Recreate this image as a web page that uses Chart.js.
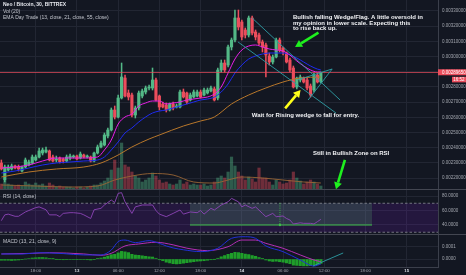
<!DOCTYPE html>
<html lang="en">
<head>
<meta charset="UTF-8">
<title>Neo / Bitcoin, 30, BITTREX</title>
<script src="https://cdn.jsdelivr.net/npm/chart.js@4.4.0/dist/chart.umd.min.js"></script>
<style>
  html, body { margin: 0; padding: 0; background: #131722; }
  #wrap { position: relative; width: 466px; height: 275px; overflow: hidden; background: #131722; }
  canvas { position: absolute; left: 0; }
</style>
</head>
<body>
<div id="wrap">
  <canvas id="price" width="466" height="190" style="top:0"></canvas>
  <canvas id="rsi" width="466" height="45" style="top:190px"></canvas>
  <canvas id="macd" width="466" height="40" style="top:235px"></canvas>
</div>
<script>
// ---- data (30 min candles, index 0 = first bar) ----
const timeTicks = [10, 22, 34, 46, 58, 70, 82, 94, 106, 118];
const timeLabels = ['18:00', '13', '06:00', '12:00', '18:00', '14', '06:00', '12:00', '18:00', '15'];
const priceTicks = [0.0022, 0.0023, 0.0024, 0.0025, 0.0026, 0.0027, 0.0028, 0.0029, 0.0030, 0.0031, 0.0032, 0.0033];
const rsiTicks = [40, 60, 80];
const macdTicks = [0, 0.0001];

const open = [
  0.0022996, 0.0021878, 0.0022536, 0.0022602, 0.0022799, 0.0022733, 0.0022470, 0.0022733, 0.0022865, 0.0022996,
  0.0023194, 0.0023391, 0.0023654, 0.0023720, 0.0023786, 0.0023391, 0.0023194, 0.0023325, 0.0023260, 0.0023128,
  0.0023325, 0.0023391, 0.0023457, 0.0023325, 0.0023523, 0.0023391, 0.0023391, 0.0023128, 0.0023654, 0.0024049,
  0.0024180, 0.0024773, 0.0025167, 0.0026483, 0.0026023, 0.0027273, 0.0028588, 0.0027602, 0.0027470, 0.0026154,
  0.0026615, 0.0027404, 0.0027667, 0.0027931, 0.0027931, 0.0028457, 0.0027404, 0.0026878, 0.0026812, 0.0026483,
  0.0026878, 0.0026681, 0.0026681, 0.0027667, 0.0027602, 0.0027141, 0.0027338, 0.0027404, 0.0027667, 0.0027470,
  0.0027602, 0.0027733, 0.0027865, 0.0027273, 0.0029115, 0.0029575, 0.0029444, 0.0030628, 0.0031088, 0.0032536,
  0.0032273, 0.0031746, 0.0031417, 0.0032536, 0.0031615, 0.0031417, 0.0030957, 0.0030760, 0.0030036, 0.0029641,
  0.0029970, 0.0031088, 0.0030562, 0.0030233, 0.0029773, 0.0029246, 0.0027996, 0.0028457, 0.0028588, 0.0028457,
  0.0028062, 0.0027799, 0.0028786, 0.0028325
];
const high = [
  0.0023194, 0.0022865, 0.0022865, 0.0022930, 0.0022865, 0.0022865, 0.0022799, 0.0023325, 0.0023194, 0.0023523,
  0.0023523, 0.0023983, 0.0023983, 0.0024049, 0.0023852, 0.0023523, 0.0023457, 0.0023391, 0.0023325, 0.0023523,
  0.0023588, 0.0023523, 0.0023523, 0.0023720, 0.0023588, 0.0023523, 0.0023457, 0.0023720, 0.0024180, 0.0024444,
  0.0024970, 0.0025299, 0.0026615, 0.0026746, 0.0027470, 0.0029575, 0.0028786, 0.0027799, 0.0027602, 0.0026746,
  0.0027733, 0.0027865, 0.0028062, 0.0028128, 0.0029246, 0.0028588, 0.0027470, 0.0027010, 0.0026944, 0.0026944,
  0.0027010, 0.0026878, 0.0027799, 0.0027865, 0.0027667, 0.0027602, 0.0027799, 0.0027799, 0.0027799, 0.0027931,
  0.0027931, 0.0028062, 0.0027996, 0.0029246, 0.0029773, 0.0029773, 0.0030760, 0.0031220, 0.0033062, 0.0033062,
  0.0032404, 0.0031878, 0.0032667, 0.0032667, 0.0031746, 0.0031549, 0.0031088, 0.0030891, 0.0030233, 0.0030102,
  0.0031220, 0.0031220, 0.0030628, 0.0030299, 0.0029904, 0.0029378, 0.0028654, 0.0028786, 0.0028654, 0.0028588,
  0.0028194, 0.0028917, 0.0028917, 0.0028983
];
const low = [
  0.0022536, 0.0021746, 0.0022470, 0.0022536, 0.0022602, 0.0022470, 0.0022404, 0.0022667, 0.0022799, 0.0022930,
  0.0023128, 0.0023325, 0.0023523, 0.0023654, 0.0023128, 0.0023062, 0.0023062, 0.0022996, 0.0022996, 0.0023062,
  0.0023194, 0.0023325, 0.0023194, 0.0023260, 0.0023325, 0.0023325, 0.0023062, 0.0023062, 0.0023588, 0.0023983,
  0.0024115, 0.0024641, 0.0025102, 0.0025891, 0.0025957, 0.0027207, 0.0027338, 0.0027141, 0.0026023, 0.0025957,
  0.0026483, 0.0027273, 0.0027536, 0.0027799, 0.0027799, 0.0027075, 0.0026483, 0.0026615, 0.0026352, 0.0026417,
  0.0026483, 0.0026615, 0.0026615, 0.0027273, 0.0026878, 0.0027075, 0.0027273, 0.0027338, 0.0027273, 0.0027404,
  0.0027536, 0.0027667, 0.0027075, 0.0027141, 0.0028983, 0.0028983, 0.0029312, 0.0030431, 0.0030957, 0.0031746,
  0.0031088, 0.0031220, 0.0031286, 0.0031417, 0.0031088, 0.0030760, 0.0030299, 0.0028654, 0.0029444, 0.0029509,
  0.0029904, 0.0030299, 0.0030102, 0.0029575, 0.0028983, 0.0027931, 0.0027865, 0.0028325, 0.0028260, 0.0027799,
  0.0027338, 0.0027667, 0.0028260, 0.0028260
];
const close = [
  0.0022602, 0.0022733, 0.0022733, 0.0022799, 0.0022667, 0.0022602, 0.0022733, 0.0023194, 0.0023062, 0.0023391,
  0.0023391, 0.0023786, 0.0023852, 0.0023852, 0.0023194, 0.0023128, 0.0023260, 0.0023062, 0.0023128, 0.0023391,
  0.0023457, 0.0023457, 0.0023260, 0.0023588, 0.0023391, 0.0023457, 0.0023128, 0.0023654, 0.0024049, 0.0024312,
  0.0024838, 0.0025167, 0.0026483, 0.0026023, 0.0027273, 0.0028654, 0.0027404, 0.0027338, 0.0026154, 0.0026615,
  0.0027602, 0.0027733, 0.0027931, 0.0027996, 0.0028457, 0.0027141, 0.0026681, 0.0026681, 0.0026483, 0.0026878,
  0.0026615, 0.0026746, 0.0027667, 0.0027338, 0.0027010, 0.0027470, 0.0027667, 0.0027667, 0.0027338, 0.0027799,
  0.0027799, 0.0027931, 0.0027141, 0.0029115, 0.0029575, 0.0029115, 0.0030628, 0.0031088, 0.0032536, 0.0031944,
  0.0031286, 0.0031417, 0.0032536, 0.0031549, 0.0031286, 0.0030891, 0.0030628, 0.0030102, 0.0029641, 0.0029970,
  0.0031088, 0.0030431, 0.0030299, 0.0029641, 0.0029115, 0.0027996, 0.0028588, 0.0028654, 0.0028325, 0.0027931,
  0.0027470, 0.0028786, 0.0028325, 0.0028965
];
const volume = [
  60, 90, 60, 50, 40, 50, 40, 80, 60, 50,
  70, 50, 60, 40, 70, 50, 30, 40, 30, 30,
  30, 20, 30, 30, 20, 30, 40, 50, 50, 70,
  90, 120, 200, 300, 220, 470, 250, 230, 180, 140,
  120, 80, 100, 120, 170, 140, 100, 70, 80, 60,
  50, 60, 100, 60, 80, 50, 60, 50, 50, 60,
  40, 50, 80, 120, 140, 120, 180, 330, 240, 180,
  140, 100, 130, 110, 80, 220, 120, 120, 80, 50,
  100, 80, 60, 70, 100, 180, 120, 90, 60, 80,
  100, 80, 60, 40
];
const volMa = [[0, 50], [10, 40], [20, 30], [28, 40], [33, 100], [38, 140], [44, 165], [50, 150], [56, 80],
  [62, 70], [66, 100], [70, 130], [76, 120], [82, 100], [88, 80], [93, 70]];

const ema13 = [[0, 0.0022667], [4, 0.0022733], [8, 0.0022865], [12, 0.0023128], [16, 0.0023325], [20, 0.0023325],
  [24, 0.0023325], [28, 0.0023391], [30, 0.0023852], [32, 0.0024509], [34, 0.0025562], [36, 0.0026023],
  [38, 0.0026220], [40, 0.0026746], [42, 0.0026944], [44, 0.0027075], [46, 0.0027075], [48, 0.0026878],
  [50, 0.0026944], [52, 0.0027010], [54, 0.0027141], [56, 0.0027207], [58, 0.0027273], [60, 0.0027338],
  [62, 0.0027536], [64, 0.0027996], [66, 0.0028917], [68, 0.0029838], [70, 0.0030431], [72, 0.0030694],
  [74, 0.0030760], [76, 0.0030628], [78, 0.0030496], [80, 0.0030431], [82, 0.0030365], [84, 0.0030102],
  [86, 0.0029707], [88, 0.0029378], [90, 0.0029115], [92, 0.0028983], [93, 0.0028983]];
const ema21 = [[0, 0.0022338], [4, 0.0022470], [8, 0.0022667], [12, 0.0022865], [16, 0.0022996], [20, 0.0023062],
  [24, 0.0023128], [28, 0.0023194], [30, 0.0023391], [32, 0.0023852], [34, 0.0024378], [36, 0.0024970],
  [38, 0.0025299], [40, 0.0025694], [42, 0.0026023], [44, 0.0026286], [46, 0.0026417], [48, 0.0026483],
  [50, 0.0026615], [52, 0.0026746], [54, 0.0026878], [56, 0.0027010], [58, 0.0027141], [60, 0.0027207],
  [62, 0.0027338], [64, 0.0027667], [66, 0.0028194], [68, 0.0028917], [70, 0.0029444], [72, 0.0029838],
  [74, 0.0030036], [76, 0.0030167], [78, 0.0030233], [80, 0.0030233], [82, 0.0030233], [84, 0.0030102],
  [86, 0.0029904], [88, 0.0029641], [90, 0.0029378], [92, 0.0029175], [93, 0.0029115]];
const ema55 = [[0, 0.0022075], [8, 0.0022404], [16, 0.0022602], [24, 0.0022733], [29, 0.0022996], [34, 0.0023523],
  [38, 0.0024049], [43, 0.0024575], [46, 0.0024838], [53, 0.0025431], [58, 0.0025759], [62, 0.0026023],
  [67, 0.0026878], [72, 0.0027470], [77, 0.0027931], [82, 0.0028325], [87, 0.0028588], [93, 0.0028654]];

const rsi = [[0, 46], [1, 54], [2, 55], [4, 52], [5, 52], [7, 58], [8, 60], [10, 64], [11, 65], [13, 61], [14, 54],
  [16, 54], [17, 51.5], [18, 56], [20, 57], [21, 57], [23, 56], [24, 54], [26, 49], [27, 61], [29, 63], [30, 67.6],
  [32, 74.5], [33, 71], [34, 83.7], [35, 84.6], [36, 72], [38, 56], [39, 65], [41, 67.6], [44, 67.6], [45, 60],
  [46, 55], [48, 51.5], [50, 56], [52, 60.7], [53, 55], [55, 58], [57, 57], [58, 60], [59, 55], [61, 63], [62, 60.7],
  [64, 67.6], [66, 72], [67, 76.8], [69, 72], [70, 65], [71, 67.6], [73, 63], [74, 65], [76, 56], [77, 51.5],
  [79, 56], [80, 51.5], [82, 52.4], [83, 49], [84, 46.9], [85, 41.4], [87, 43], [88, 42.3], [90, 42.3], [91, 41.4],
  [92, 44.6], [93, 47.8]];
const rsiUpper = 70, rsiLower = 30;

const macdHist = [
  -1, -1, -1, -1.2, -1, -0.8, -0.5, 0, 0.4, 0.8,
  1, 1.2, 1.2, 1, 0.5, 0.2, -0.2, -0.5, -0.6, -0.5,
  -0.4, -0.4, -0.5, -0.4, -0.4, -0.6, -0.8, -0.3, 0.3, 0.8,
  1.5, 2.4, 3.5, 3.8, 5, 6.2, 5.8, 5.2, 3.8, 3.2,
  3, 2.6, 2.2, 1.8, 1.6, 0.6, -0.6, -1.4, -2.6, -3.2,
  -3.8, -4, -3.8, -3.4, -3, -2.6, -2.2, -1.8, -1.6, -1.4,
  -1, -0.6, -0.2, 0.6, 1.8, 2.8, 3.8, 4.6, 5.4, 5.2,
  4.6, 4, 3.6, 2.8, 2.2, 1.2, 0.2, -0.8, -1.6, -2,
  -1.8, -2.2, -2.6, -3.2, -3.8, -5, -5.2, -5.4, -5.6, -5.6,
  -5.4, -5, -4.4, -3.6
].map(v => v * 1e-5);
const macdLine = [[0, 4.1], [6, 4.0], [11, 5.1], [18, 4.4], [24, 3.3], [29, 3.3], [32, 7.3], [34, 14.1], [36, 15.4],
  [39, 13.3], [43, 14.9], [46, 12.7], [48, 10.6], [50, 9.0], [53, 7.5], [58, 6.0], [63, 8.7], [67, 16.8], [71, 18.1],
  [74, 16.8], [77, 10.6], [82, 6.0], [87, -0.8], [91, -5.7], [93, -4.1]].map(([i, v]) => [i, v * 1e-5]);
const signalLine = [[0, 4.1], [9, 4.6], [14, 5.1], [24, 4.1], [29, 3.0], [32, 4.6], [36, 10.6], [40, 12.2],
  [45, 13.6], [50, 11.5], [54, 8.8], [60, 6.8], [66, 10], [70, 15.4], [74, 15.4], [77, 12.7], [82, 8.7], [87, 3.3],
  [91, -0.8], [93, -2.2]].map(([i, v]) => [i, v * 1e-5]);

// drawings on the chart, in (bar index, value)
const wedgeLines = [
  [[73.0, 0.0032536], [98.6, 0.0027141]],
  [[68.9, 0.0030957], [97.4, 0.0026286]],
  [[86.1, 0.0028457], [96.3, 0.0029181]],
  [[89.3, 0.0027141], [96.3, 0.0029181]]
];
const greenArrow = [[92.3, 0.0031569], [85.5, 0.0030628]];
const yellowArrow = [[82.6, 0.0026595], [87.1, 0.0027800]];
const rsiArrow = [[100.0, 0.0023194], [97.4, 0.0021266]];
const notes = [
  { at: [84.9, 0.0032602], lines: ['Bullish falling Wedge/Flag. A little oversold in', 'my opinion in lower scale. Expecting this', 'to rise back up.'] },
  { at: [72.9, 0.0026154], lines: ['Wait for Rising wedge to fall for entry.'] },
  { at: [90.7, 0.0023654], lines: ['Still in Bullish Zone on RSI'] }
];
const rsiZone = { from: 54.9, to: 107.9, top: 70, bottom: 40, mark: 81.1 };
const macdDrawLine = [[90.7, -5.7e-5], [99.5, 4.9e-5]];
const lastPrice = close[close.length - 1];
const countdown = '16:52';

// ---- styling ----
const FONT = '"Liberation Sans", Arial, sans-serif';
const gridColor = '#222633', edgeColor = '#3b3f4b', axisText = '#a3a6af';
const upColor = '#53b987', downColor = '#eb4d5c';
const xMin = -0.393, xMax = 127.1;

Chart.defaults.font.family = FONT;
Chart.defaults.font.size = 4.5;
Chart.defaults.color = axisText;
Chart.defaults.animation = false;
Chart.defaults.events = [];
Chart.defaults.plugins.legend.display = false;
Chart.defaults.plugins.tooltip.enabled = false;

const idx = open.map((_, i) => i);
const isUp = i => close[i] >= open[i];
const pts = arr => arr.map(([x, y]) => ({ x, y }));

function xScale(showLabels) {
  return {
    type: 'linear', min: xMin, max: xMax, offset: false,
    grid: { color: gridColor, drawTicks: false, offset: false },
    border: { display: showLabels, color: edgeColor },
    ticks: {
      display: showLabels, padding: 1.5, autoSkip: false, maxRotation: 0,
      color: c => (timeLabels[c.index] || '').length === 2 ? '#d8dbe2' : axisText,
      font: c => ({ family: FONT, size: 4.4, weight: (timeLabels[c.index] || '').length === 2 ? 'bold' : 'normal' }),
      callback: v => timeLabels[timeTicks.indexOf(v)] || ''
    },
    afterBuildTicks: s => { s.ticks = timeTicks.map(v => ({ value: v })); },
    afterFit: s => { s.height = showLabels ? 8 : 0; s.paddingLeft = 0; s.paddingRight = 0; }
  };
}
function yScale(ticksArr, min, max, fmt) {
  return {
    position: 'right', min, max,
    grid: { color: gridColor, drawTicks: false },
    border: { display: true, color: edgeColor },
    ticks: { padding: 4, autoSkip: false, callback: fmt, font: { size: 4.5 } },
    afterBuildTicks: s => { s.ticks = ticksArr.map(v => ({ value: v })); },
    afterFit: s => { s.width = 28; s.paddingTop = 0; s.paddingBottom = 0; }
  };
}
function separator(chart) {
  const ctx = chart.ctx, yb = chart.chartArea.bottom - 0.5;
  ctx.save();
  ctx.strokeStyle = '#434651'; ctx.lineWidth = 1;
  ctx.beginPath(); ctx.moveTo(0, yb); ctx.lineTo(chart.width, yb); ctx.stroke();
  ctx.restore();
}
function paneLabel(chart, text, y, bold) {
  const ctx = chart.ctx;
  ctx.save();
  ctx.fillStyle = bold ? '#e6e8ee' : '#c3c6ce';
  ctx.font = (bold ? 'bold ' : '') + '5px ' + FONT;
  ctx.textBaseline = 'middle'; ctx.textAlign = 'left';
  ctx.fillText(text, 3, y);
  ctx.restore();
}
function arrow(ctx, [x1, y1], [x2, y2], color) {
  const a = Math.atan2(y2 - y1, x2 - x1), L = 7, W = 4;
  const bx = x2 - L * Math.cos(a), by = y2 - L * Math.sin(a);
  ctx.strokeStyle = color; ctx.fillStyle = color; ctx.lineWidth = 2.6;
  ctx.beginPath(); ctx.moveTo(x1, y1); ctx.lineTo(bx, by); ctx.stroke();
  ctx.beginPath(); ctx.moveTo(x2, y2);
  ctx.lineTo(bx + W * Math.sin(a), by - W * Math.cos(a));
  ctx.lineTo(bx - W * Math.sin(a), by + W * Math.cos(a));
  ctx.closePath(); ctx.fill();
}

// ---- price pane ----
const priceDecor = {
  id: 'priceDecor',
  afterDatasetsDraw(chart) {
    const { ctx, chartArea: a, scales: { x, y } } = chart;
    const P = ([i, v]) => [x.getPixelForValue(i), y.getPixelForValue(v)];
    ctx.save();
    ctx.beginPath(); ctx.rect(a.left, a.top, a.width, a.height); ctx.clip();
    const ly = Math.round(y.getPixelForValue(lastPrice)) + 0.5;
    ctx.strokeStyle = 'rgba(235,77,92,0.7)'; ctx.lineWidth = 1;
    ctx.beginPath(); ctx.moveTo(a.left, ly); ctx.lineTo(a.right, ly); ctx.stroke();
    ctx.strokeStyle = '#2e9ea6'; ctx.lineWidth = 0.9;
    wedgeLines.forEach(([p, q]) => {
      const [x1, y1] = P(p), [x2, y2] = P(q);
      ctx.beginPath(); ctx.moveTo(x1, y1); ctx.lineTo(x2, y2); ctx.stroke();
    });
    arrow(ctx, P(greenArrow[0]), P(greenArrow[1]), '#1ef01e');
    arrow(ctx, P(yellowArrow[0]), P(yellowArrow[1]), '#ffff1a');
    arrow(ctx, P(rsiArrow[0]), P(rsiArrow[1]), '#1ef01e');
    ctx.fillStyle = '#f2f3f6'; ctx.font = 'bold 6px ' + FONT;
    ctx.textBaseline = 'middle'; ctx.textAlign = 'left';
    notes.forEach(n => {
      const [tx, ty] = P(n.at);
      n.lines.forEach((t, k) => ctx.fillText(t, tx, ty + k * 5.9));
    });
    ctx.restore();
  },
  afterDraw(chart) {
    const { ctx, chartArea: a, scales: { y } } = chart;
    paneLabel(chart, 'Neo / Bitcoin, 30, BITTREX', 5, true);
    paneLabel(chart, 'Vol (20)', 11.3, false);
    paneLabel(chart, 'EMA Day Trade (13, close, 21, close, 55, close)', 17.6, false);
    const ly = y.getPixelForValue(lastPrice);
    ctx.save();
    ctx.fillStyle = downColor;
    ctx.fillRect(a.right, ly - 3, chart.width - a.right, 6);
    ctx.fillRect(chart.width - 14, ly + 4.5, 14, 5.6);
    ctx.fillStyle = '#ffffff'; ctx.font = '4.5px ' + FONT;
    ctx.textBaseline = 'middle'; ctx.textAlign = 'left';
    ctx.fillText(lastPrice.toFixed(8), a.right + 4, ly);
    ctx.textAlign = 'right';
    ctx.fillText(countdown, chart.width - 1.5, ly + 7.4);
    ctx.restore();
    separator(chart);
  }
};

new Chart(document.getElementById('price'), {
  type: 'bar',
  data: {
    datasets: [
      {
        label: 'Volume', yAxisID: 'yv', order: 9, grouped: false, barThickness: 2.5,
        data: idx.map(i => ({ x: i, y: volume[i] })),
        backgroundColor: c => isUp(c.dataIndex) ? 'rgba(83,185,135,0.42)' : 'rgba(235,77,92,0.42)'
      },
      {
        type: 'line', label: 'Vol MA', yAxisID: 'yv', order: 8, data: pts(volMa),
        borderColor: '#9a6535', borderWidth: 0.9, pointRadius: 0, cubicInterpolationMode: 'monotone'
      },
      {
        label: 'Wick', yAxisID: 'y', order: 7, grouped: false, barThickness: 0.9, minBarLength: 1,
        data: idx.map(i => ({ x: i, y: [low[i], high[i]] })),
        backgroundColor: c => isUp(c.dataIndex) ? upColor : downColor
      },
      {
        label: 'Body', yAxisID: 'y', order: 6, grouped: false, barThickness: 2.5, minBarLength: 1,
        data: idx.map(i => ({ x: i, y: [open[i], close[i]] })),
        backgroundColor: c => isUp(c.dataIndex) ? upColor : downColor
      },
      {
        type: 'line', label: 'EMA 55', yAxisID: 'y', order: 3, data: pts(ema55),
        borderColor: '#b8772b', borderWidth: 1, pointRadius: 0, cubicInterpolationMode: 'monotone'
      },
      {
        type: 'line', label: 'EMA 21', yAxisID: 'y', order: 2, data: pts(ema21),
        borderColor: '#1f2cf0', borderWidth: 1, pointRadius: 0, cubicInterpolationMode: 'monotone'
      },
      {
        type: 'line', label: 'EMA 13', yAxisID: 'y', order: 1, data: pts(ema13),
        borderColor: '#e81ee8', borderWidth: 1, pointRadius: 0, cubicInterpolationMode: 'monotone'
      }
    ]
  },
  options: {
    responsive: false,
    layout: { padding: 0 },
    scales: {
      x: xScale(false),
      y: yScale(priceTicks, 0.002122, 0.003372, v => v.toFixed(8)),
      yv: { display: false, min: 0, max: 1900 }
    }
  },
  plugins: [priceDecor]
});

// ---- RSI pane ----
const rsiDecor = {
  id: 'rsiDecor',
  beforeDatasetsDraw(chart) {
    const { ctx, chartArea: a, scales: { x, y } } = chart;
    const yU = y.getPixelForValue(rsiUpper), yL = y.getPixelForValue(rsiLower);
    ctx.save();
    ctx.fillStyle = 'rgba(153,21,255,0.13)';
    ctx.fillRect(a.left, yU, a.width, yL - yU);
    const zx1 = x.getPixelForValue(rsiZone.from), zx2 = x.getPixelForValue(rsiZone.to);
    const zt = y.getPixelForValue(rsiZone.top), zb = y.getPixelForValue(rsiZone.bottom);
    ctx.fillStyle = 'rgba(90,185,120,0.2)';
    ctx.fillRect(zx1, zt, zx2 - zx1, zb - zt);
    ctx.strokeStyle = '#8a8d96'; ctx.lineWidth = 0.8; ctx.setLineDash([2.5, 2]);
    [yU, yL].forEach(v => { ctx.beginPath(); ctx.moveTo(a.left, v); ctx.lineTo(a.right, v); ctx.stroke(); });
    ctx.strokeStyle = '#3fbf4a'; ctx.setLineDash([1, 1.2]); ctx.lineWidth = 0.9;
    const mx = x.getPixelForValue(rsiZone.mark);
    ctx.beginPath(); ctx.moveTo(mx, zt); ctx.lineTo(mx, zb); ctx.stroke();
    ctx.setLineDash([]); ctx.lineWidth = 1;
    ctx.beginPath(); ctx.moveTo(zx1, zb); ctx.lineTo(zx2, zb); ctx.stroke();
    ctx.fillStyle = '#3fbf4a';
    ctx.beginPath(); ctx.arc(mx, zb, 1.2, 0, Math.PI * 2); ctx.fill();
    ctx.restore();
  },
  afterDraw(chart) {
    paneLabel(chart, 'RSI (14, close)', 6.7, false);
    separator(chart);
  }
};

new Chart(document.getElementById('rsi'), {
  type: 'line',
  data: {
    datasets: [{
      label: 'RSI', data: pts(rsi), borderColor: '#8d45b8', borderWidth: 0.9, pointRadius: 0, tension: 0
    }]
  },
  options: {
    responsive: false,
    layout: { padding: 0 },
    scales: {
      x: xScale(false),
      y: yScale(rsiTicks, 26.2, 88.3, v => v.toFixed(4))
    }
  },
  plugins: [rsiDecor]
});

// ---- MACD pane ----
const macdDecor = {
  id: 'macdDecor',
  afterDatasetsDraw(chart) {
    const { ctx, chartArea: a, scales: { x, y } } = chart;
    const [p, q] = macdDrawLine;
    ctx.save();
    ctx.beginPath(); ctx.rect(a.left, a.top, a.width, a.height); ctx.clip();
    ctx.strokeStyle = '#2e9ea6'; ctx.lineWidth = 0.9;
    ctx.beginPath();
    ctx.moveTo(x.getPixelForValue(p[0]), y.getPixelForValue(p[1]));
    ctx.lineTo(x.getPixelForValue(q[0]), y.getPixelForValue(q[1]));
    ctx.stroke();
    ctx.restore();
  },
  afterDraw(chart) {
    paneLabel(chart, 'MACD (13, 21, close, 9)', 6.7, false);
  }
};

new Chart(document.getElementById('macd'), {
  type: 'bar',
  data: {
    datasets: [
      {
        label: 'Histogram', order: 5, grouped: false, barThickness: 2.5,
        data: idx.map(i => ({ x: i, y: macdHist[i] })), backgroundColor: '#1f9e2a'
      },
      {
        type: 'line', label: 'Signal', order: 2, data: pts(signalLine),
        borderColor: '#b52fb5', borderWidth: 1, pointRadius: 0, cubicInterpolationMode: 'monotone'
      },
      {
        type: 'line', label: 'MACD', order: 1, data: pts(macdLine),
        borderColor: '#2230d8', borderWidth: 1, pointRadius: 0, cubicInterpolationMode: 'monotone'
      }
    ]
  },
  options: {
    responsive: false,
    layout: { padding: 0 },
    scales: {
      x: xScale(true),
      y: yScale(macdTicks, -0.000065, 0.000195, v => v.toFixed(4))
    }
  },
  plugins: [macdDecor]
});
</script>
</body>
</html>
